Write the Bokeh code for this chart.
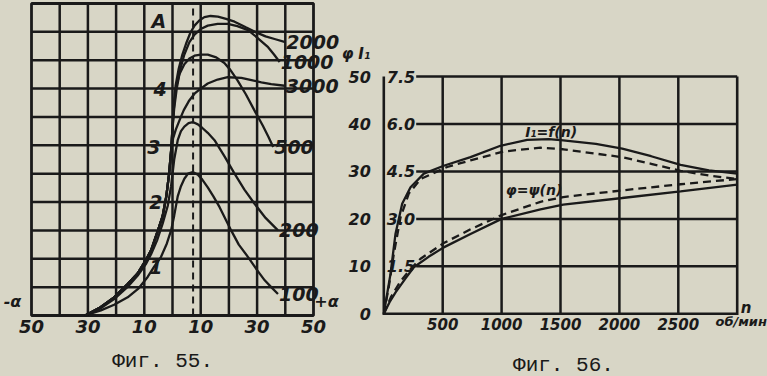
from bokeh.plotting import figure
from bokeh.models import Range1d, ColumnDataSource
from bokeh.layouts import row
from bokeh.embed import file_html
from bokeh.resources import INLINE
from bokeh.core.properties import value

PAPER = "#d8d6c6"
INK = "#1a1a1a"
NUM_FONT = "DejaVu Sans"
CAP_FONT = "Liberation Mono"

# ---------------- Fig. 55 data ----------------
alpha_ticks = [-50, -30, -10, 10, 30, 50]
alpha_tick_labels = ["50", "30", "10", "10", "30", "50"]
alpha_grid = [-40, -30, -20, -10, 0, 10, 20, 30, 40]
amp_grid = [0.5, 1.0, 1.5, 2.0, 2.5, 3.0, 3.5, 4.0, 4.5, 5.0]
amp_ticks = [1, 2, 3, 4]
amp_tick_labels = ["1", "2", "3", "4"]
dashed_alpha = 7.3

c100_alpha = [-31, -25.4, -20.7, -15.9, -12, -8.8, -6.5, -4.1, -2, -0.5, 0.6, 1.85, 3, 4.2, 5.5, 7.2, 9, 10.5, 12.5, 14.5, 16.7, 20.8, 23.5, 26.8, 30, 32.7, 35, 37.4]
c100_amp = [0, 0.09, 0.19, 0.32, 0.48, 0.68, 0.86, 1.03, 1.27, 1.5, 1.76, 2.1, 2.28, 2.41, 2.5, 2.53, 2.48, 2.4, 2.26, 2.1, 1.91, 1.5, 1.25, 1.03, 0.8, 0.62, 0.5, 0.38]

c200_alpha = [-31, -26, -20.7, -16, -12.4, -9.5, -7.6, -5.5, -3.5, -1.7, -0.5, 0.6, 1.85, 3, 4.2, 5.7, 7.2, 9, 10.5, 12.5, 14.9, 18.5, 22, 25.5, 29.1, 33, 37.4]
c200_amp = [0, 0.11, 0.29, 0.5, 0.7, 0.9, 1.08, 1.32, 1.62, 1.93, 2.28, 2.75, 3.09, 3.25, 3.33, 3.39, 3.41, 3.37, 3.31, 3.22, 3.09, 2.8, 2.5, 2.22, 1.97, 1.72, 1.5]

c500_alpha = [-31, -26, -20.7, -16, -12.4, -9.5, -7.6, -5.5, -3.5, -2.2, -1.2, -0.5, 0, 0.5, 1.2, 2.4, 4.2, 6, 7.8, 10, 12.5, 15.5, 18.4, 20.5, 23, 26, 29, 32, 34, 35.7]
c500_amp = [0, 0.13, 0.32, 0.55, 0.74, 0.97, 1.15, 1.45, 1.75, 2.1, 2.5, 2.9, 3.3, 3.65, 4.0, 4.25, 4.43, 4.53, 4.58, 4.6, 4.6, 4.55, 4.45, 4.33, 4.15, 3.9, 3.62, 3.35, 3.15, 2.97]

c1000_alpha = [-31, -26, -20.7, -16, -12.4, -9.5, -7.6, -5.5, -3.5, -2.2, -1.2, -0.5, 0, 0.6, 1.5, 2.8, 4.2, 6, 7.8, 10, 12.5, 16, 19.6, 23, 26.8, 30, 33.9, 36, 38]
c1000_amp = [0, 0.13, 0.32, 0.55, 0.74, 0.97, 1.15, 1.45, 1.75, 2.1, 2.5, 2.9, 3.3, 3.65, 4.0, 4.35, 4.6, 4.82, 4.95, 5.05, 5.11, 5.14, 5.14, 5.1, 5.03, 4.9, 4.73, 4.6, 4.47]

c2000_alpha = [-31, -26, -20.7, -16, -12.4, -9.5, -7.6, -5.5, -3.5, -2.2, -1.2, -0.5, 0, 0.4, 1.1, 2.2, 3.5, 4.8, 6.3, 7.8, 9.5, 11.3, 13.5, 16.1, 19, 22, 26, 29.7, 33, 36.5, 40]
c2000_amp = [0, 0.13, 0.32, 0.55, 0.74, 0.97, 1.15, 1.45, 1.75, 2.1, 2.5, 2.9, 3.3, 3.7, 4.05, 4.35, 4.6, 4.79, 4.98, 5.11, 5.2, 5.26, 5.28, 5.27, 5.23, 5.18, 5.08, 4.99, 4.92, 4.87, 4.82]

c3000_alpha = [-31, -26, -20.7, -16, -12.4, -9.5, -7.6, -5.5, -3.5, -2.2, -1.2, -0.5, 0.2, 1.2, 2.8, 4, 5.8, 7.8, 10, 12.5, 16, 19.6, 24.4, 28, 31.5, 35, 39.8]
c3000_amp = [0, 0.13, 0.32, 0.55, 0.74, 0.97, 1.15, 1.45, 1.75, 2.1, 2.5, 2.9, 3.12, 3.28, 3.48, 3.62, 3.78, 3.91, 4.0, 4.09, 4.16, 4.2, 4.19, 4.15, 4.11, 4.08, 4.05]

curve_names55 = ["100", "200", "500", "1000", "2000", "3000"]
curve_x55 = [c100_alpha, c200_alpha, c500_alpha, c1000_alpha, c2000_alpha, c3000_alpha]
curve_y55 = [c100_amp, c200_amp, c500_amp, c1000_amp, c2000_amp, c3000_amp]

# ---------------- Fig. 56 data ----------------
n_ticks = [500, 1000, 1500, 2000, 2500]
phi_ticks = [0, 10, 20, 30, 40, 50]
phi_tick_labels = ["0", "10", "20", "30", "40", "50"]
phi_grid = [10, 20, 30, 40, 50]
i_ticks = [1.5, 3.0, 4.5, 6.0, 7.5]
i_tick_labels = ["1.5", "3.0", "4.5", "6.0", "7.5"]

i1_solid_n = [0, 57, 99, 156, 227, 340, 509, 736, 990, 1217, 1400, 1523, 1800, 2024, 2270, 2519, 2760, 3000]
i1_solid_a = [0, 1.26, 2.52, 3.48, 4.0, 4.43, 4.68, 4.95, 5.31, 5.5, 5.52, 5.48, 5.37, 5.22, 4.98, 4.71, 4.53, 4.43]
i1_dash_n = [0, 42, 85, 142, 212, 312, 538, 736, 1019, 1330, 1523, 2024, 2270, 2519, 2760, 3000]
i1_dash_a = [0, 0.84, 1.89, 3.05, 3.8, 4.26, 4.64, 4.85, 5.13, 5.25, 5.2, 4.95, 4.74, 4.52, 4.37, 4.26]
phi_solid_n = [0, 50, 100, 180, 255, 380, 509, 736, 1000, 1330, 1523, 2024, 2519, 3000]
phi_solid = [0, 2.5, 4.5, 7.3, 9.8, 12.0, 14.0, 16.8, 20.0, 22.0, 23.0, 24.4, 25.8, 27.2]
phi_dash_n = [0, 60, 140, 230, 312, 509, 736, 1000, 1330, 1523, 2024, 2519, 3000]
phi_dash = [0, 3.5, 6.8, 9.5, 11.6, 14.9, 17.8, 20.8, 23.6, 24.6, 26.0, 27.3, 28.4]

# ---------------- page geometry (pixels) ----------------
H = 376
W1, W2 = 340, 427
B55 = dict(left=31, right=313, top=3, bottom=315)       # chart box of Fig. 55 in its canvas
B56 = dict(left=43.3, right=396.7, top=76, bottom=313.3)  # chart box of Fig. 56 in its canvas
GRID_W = 2.5
CURVE_W = 2.3
LABEL_GAP_N = 275   # horizontal rules of Fig. 56 start right of the inner current labels


def ranges(box, x0, x1, y0, y1, w, h):
    sx = (box["right"] - box["left"]) / (x1 - x0)
    sy = (box["bottom"] - box["top"]) / (y1 - y0)
    xr = Range1d(x0 - box["left"] / sx, x1 + (w - box["right"]) / sx)
    yr = Range1d(y0 - (h - box["bottom"]) / sy, y1 + box["top"] / sy)
    return xr, yr


def bare_figure(w, xr, yr):
    p = figure(width=w, height=H, x_range=xr, y_range=yr, output_backend="svg",
               toolbar_location=None, x_axis_location=None, y_axis_location=None,
               min_border=0, min_border_left=0, min_border_right=0,
               min_border_top=0, min_border_bottom=0)
    p.background_fill_color = PAPER
    p.border_fill_color = PAPER
    p.outline_line_color = None
    p.xgrid.visible = False
    p.ygrid.visible = False
    return p


def txt(p, x, y, text, size, font=NUM_FONT, style="bold italic", align="center",
        baseline="middle", **kw):
    p.text(x=x, y=y, text=text, text_font=value(font), text_font_style=style,
           text_font_size=size, text_color=INK, text_align=align,
           text_baseline=baseline, **kw)


# ---------------- Figure 55 ----------------
xr1, yr1 = ranges(B55, -50, 50, 0, 5.5, W1, H)
p1 = bare_figure(W1, xr1, yr1)
p1.segment(x0=alpha_grid, y0=[0] * len(alpha_grid), x1=alpha_grid, y1=[5.5] * len(alpha_grid),
           line_color=INK, line_width=GRID_W)
p1.segment(x0=[-50] * len(amp_grid), y0=amp_grid, x1=[50] * len(amp_grid), y1=amp_grid,
           line_color=INK, line_width=GRID_W)
p1.quad(left=[-50], right=[50], bottom=[0], top=[5.5], fill_color=None,
        line_color=INK, line_width=2.8)
p1.segment(x0=[dashed_alpha], y0=[0], x1=[dashed_alpha], y1=[5.5],
           line_color=INK, line_width=2, line_dash="7 5")

for xs, ys in zip(curve_x55, curve_y55):
    p1.line(xs, ys, line_color=INK, line_width=CURVE_W)

txt(p1, alpha_ticks, [0] * len(alpha_ticks), alpha_tick_labels, "18px", y_offset=11)

amp_label_x = [-5.9, -5.9, -6.6, -4.4]
amp_label_y = [0.85, 2.0, 2.97, 4.0]
txt(p1, amp_label_x + [-4.8], amp_label_y + [5.2], amp_tick_labels + ["A"], "19px")

txt(p1, [xs[-1] for xs in curve_x55], [ys[-1] for ys in curve_y55], curve_names55,
    "19px", align="left", x_offset=1)

txt(p1, [-50], [0.25], ["-α"], "16px", x_offset=-19)
txt(p1, [50], [0.25], ["+α"], "16px", x_offset=13)
txt(p1, [-3.5], [-0.81], ["Фиг. 55."], "21px", font=CAP_FONT, style="normal")

# ---------------- Figure 56 ----------------
xr2, yr2 = ranges(B56, 0, 3000, 0, 50, W2, H)
p2 = bare_figure(W2, xr2, yr2)
p2.extra_y_ranges = {"I": Range1d(yr2.start * 7.5 / 50, yr2.end * 7.5 / 50)}

p2.segment(x0=n_ticks, y0=[0] * len(n_ticks), x1=n_ticks, y1=[50] * len(n_ticks),
           line_color=INK, line_width=GRID_W)
p2.segment(x0=[LABEL_GAP_N] * len(phi_grid), y0=phi_grid, x1=[3000] * len(phi_grid),
           y1=phi_grid, line_color=INK, line_width=GRID_W)
# left, bottom and right edges of the chart box
p2.multi_line(xs=[[0, 0, 3000, 3000]], ys=[[50, 0, 0, 50]], line_color=INK,
              line_width=2.6, line_join="miter")

src_i = ColumnDataSource(dict(x=[0] * len(i_ticks), y=i_ticks, t=i_tick_labels))
p2.text(x="x", y="y", text="t", source=src_i, y_range_name="I", x_offset=3,
        text_font=value(NUM_FONT), text_font_style="bold italic", text_font_size="16px",
        text_color=INK, text_align="left", text_baseline="middle")

p2.line(i1_solid_n, i1_solid_a, y_range_name="I", line_color=INK, line_width=CURVE_W)
p2.line(i1_dash_n, i1_dash_a, y_range_name="I", line_color=INK, line_width=CURVE_W, line_dash="8 5")
p2.line(phi_solid_n, phi_solid, line_color=INK, line_width=CURVE_W)
p2.line(phi_dash_n, phi_dash, line_color=INK, line_width=CURVE_W, line_dash="8 5")

txt(p2, [0] * len(phi_ticks), phi_ticks, phi_tick_labels, "16px", align="right", x_offset=-13)
txt(p2, n_ticks, [0] * len(n_ticks), [str(t) for t in n_ticks], "15px", y_offset=10)
txt(p2, [1200, 1035], [38.4, 26.0], ["I₁=f(n)", "φ=ψ(n)"], "14px", align="left")
txt(p2, [-308, -165], [54.8, 54.8], ["φ", "I₁"], "15px")
txt(p2, [3000], [1.3], ["n"], "15px", x_offset=9)
txt(p2, [3000], [0], ["об/мин"], "13px", x_offset=4, y_offset=8)
txt(p2, [1525], [-10.9], ["Фиг. 56."], "21px", font=CAP_FONT, style="normal")

layout = row(p1, p2, spacing=0, styles={"background-color": PAPER})
open("out.html", "w").write(file_html(layout, INLINE))
